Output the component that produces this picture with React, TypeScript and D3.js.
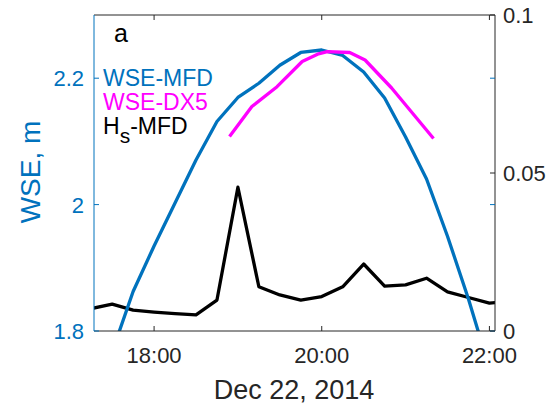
import React from "react";
import * as d3 from "d3";

// Water surface elevation and significant wave height, 22 Dec 2014
const day = "2014-12-22";

const mfdTimes = ["17:30", "17:45", "18:00", "18:15", "18:30", "18:45", "19:00", "19:15", "19:30", "19:45",
  "20:00", "20:15", "20:30", "20:45", "21:00", "21:15", "21:30", "21:45", "22:00"];
const mfdWse = [1.767, 1.8625, 1.9345, 2.0025, 2.0706, 2.1315, 2.1695, 2.192, 2.2205, 2.2407,
  2.2446, 2.236, 2.2098, 2.1687, 2.107, 2.0405, 1.95, 1.8506, 1.741];

const dx5Times = ["18:54", "19:10", "19:28", "19:46", "19:57", "20:04", "20:20", "20:31", "20:50", "21:20"];
const dx5Wse = [2.1076, 2.1551, 2.1866, 2.2264, 2.238, 2.2419, 2.2407, 2.2288, 2.1845, 2.1046];

const hsTimes = ["17:15", "17:30", "17:45", "18:00", "18:15", "18:30", "18:45", "19:00", "19:15", "19:30", "19:45",
  "20:00", "20:15", "20:30", "20:45", "21:00", "21:15", "21:30", "21:45", "22:00", "22:15"];
const hsValues = [0.0071, 0.0085, 0.0066, 0.006, 0.0055, 0.0051, 0.0098, 0.0455, 0.014, 0.0114, 0.0098,
  0.0109, 0.014, 0.0212, 0.0142, 0.0146, 0.0167, 0.0124, 0.0106, 0.0088, 0.0095];

const xTickTimes = ["18:00", "20:00", "22:00"];
const xTickLabels = ["18:00", "20:00", "22:00"];
const leftTicks = [1.8, 2.0, 2.2];
const leftTickLabels = ["1.8", "2", "2.2"];
const rightTicks = [0, 0.05, 0.1];
const rightTickLabels = ["0", "0.05", "0.1"];

const legendItems = [
  { label: "WSE-MFD", color: "#0072BD" },
  { label: "WSE-DX5", color: "#FF00FF" },
  { label: "H", sub: "s", rest: "-MFD", color: "#000000" },
];

const parse = d3.timeParse("%Y-%m-%d %H:%M");
const t = (s: string) => parse(`${day} ${s}`) as Date;

const W = 550, H = 405;
const left = 94, right = 495, top = 15, bottom = 331;
const BLUE = "#0072BD";
const GREY = "#262626";
const FONT = "'Liberation Sans', Arial, Helvetica, sans-serif";

export default function App() {
  const x = d3.scaleTime().domain([t("17:17"), t("22:04")]).range([left, right]);
  const yL = d3.scaleLinear().domain([1.8, 2.3]).range([bottom, top]);
  const yR = d3.scaleLinear().domain([0, 0.1]).range([bottom, top]);

  const lineL = d3.line<[string, number]>().x((d) => x(t(d[0]))).y((d) => yL(d[1]));
  const lineR = d3.line<[string, number]>().x((d) => x(t(d[0]))).y((d) => yR(d[1]));

  const mfd = mfdTimes.map((s, i) => [s, mfdWse[i]] as [string, number]);
  const dx5 = dx5Times.map((s, i) => [s, dx5Wse[i]] as [string, number]);
  const hs = hsTimes.map((s, i) => [s, hsValues[i]] as [string, number]);

  const tickLen = 5;

  return (
    <svg width={W} height={H} style={{ position: "absolute", left: 0, top: 0, background: "#fff" }} fontFamily={FONT}>
      <defs>
        <clipPath id="plotClip">
          <rect x={left} y={top} width={right - left} height={bottom - top} />
        </clipPath>
      </defs>

      <g clipPath="url(#plotClip)" fill="none" strokeWidth={3.3} strokeLinejoin="round">
        <path d={lineR(hs) || ""} stroke="#000" />
        <path d={lineL(mfd) || ""} stroke={BLUE} />
        <path d={lineL(dx5) || ""} stroke="#FF00FF" />
      </g>

      {/* box: top and bottom in grey, left in blue, right in dark */}
      <line x1={left} x2={right} y1={top} y2={top} stroke={GREY} strokeWidth={1} />
      <line x1={left} x2={right} y1={bottom} y2={bottom} stroke={GREY} strokeWidth={1} />
      <line x1={left} x2={left} y1={top} y2={bottom} stroke={BLUE} strokeWidth={1} />
      <line x1={right} x2={right} y1={top} y2={bottom} stroke={GREY} strokeWidth={1} />

      {/* x ticks (bottom and top, inward) */}
      {xTickTimes.map((s, i) => {
        const xv = x(t(s));
        return (
          <g key={s}>
            <line x1={xv} x2={xv} y1={bottom} y2={bottom - tickLen} stroke={GREY} />
            <line x1={xv} x2={xv} y1={top} y2={top + tickLen} stroke={GREY} />
            <text x={xv} y={363} textAnchor="middle" fontSize={22} fill={GREY}>{xTickLabels[i]}</text>
          </g>
        );
      })}

      {/* left WSE axis */}
      {leftTicks.map((v, i) => (
        <g key={v}>
          <line x1={left} x2={left + tickLen} y1={yL(v)} y2={yL(v)} stroke={BLUE} />
          <line x1={right} x2={right - tickLen} y1={yL(v)} y2={yL(v)} stroke={BLUE} />
          <text x={84} y={yL(v)} dy="0.36em" textAnchor="end" fontSize={22} fill={BLUE}>{leftTickLabels[i]}</text>
        </g>
      ))}

      {/* right Hs axis */}
      {rightTicks.map((v, i) => (
        <g key={v}>
          <line x1={right} x2={right - tickLen} y1={yR(v)} y2={yR(v)} stroke={GREY} />
          <text x={503} y={yR(v)} dy="0.36em" textAnchor="start" fontSize={22} fill={GREY}>{rightTickLabels[i]}</text>
        </g>
      ))}

      <text transform="translate(40,172) rotate(-90)" textAnchor="middle" fontSize={28} fill={BLUE}>WSE, m</text>
      <text x={294} y={399} textAnchor="middle" fontSize={27} fill={GREY}>Dec 22, 2014</text>

      <text x={114} y={42} fontSize={25} fill="#000">a</text>

      {legendItems.map((d, i) => (
        <text key={i} x={103} y={86 + i * 24} fontSize={23} fill={d.color}>
          {d.label}
          {d.sub ? <tspan fontSize={21} dy={9}>{d.sub}</tspan> : null}
          {d.rest ? <tspan dy={-9}>{d.rest}</tspan> : null}
        </text>
      ))}
    </svg>
  );
}
